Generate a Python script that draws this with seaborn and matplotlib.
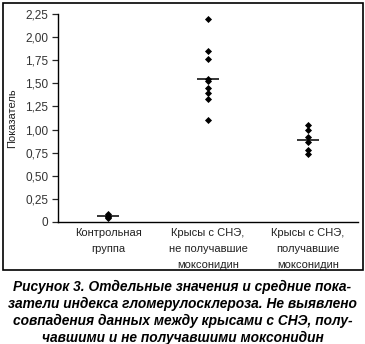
import matplotlib
matplotlib.use("Agg")
import matplotlib.pyplot as plt
from matplotlib.patches import Rectangle
from matplotlib.transforms import blended_transform_factory, offset_copy
import seaborn as sns
import pandas as pd

# Individual values per group
groups = [
    "Контрольная\nгруппа",
    "Крысы с СНЭ,\nне получавшие\nмоксонидин",
    "Крысы с СНЭ,\nполучавшие\nмоксонидин",
]
control_vals = [0.09, 0.07, 0.05, 0.04]
sne_untreated_vals = [2.20, 1.85, 1.76, 1.55, 1.52, 1.45, 1.40, 1.33, 1.10]
sne_moxonidine_vals = [1.05, 1.00, 0.92, 0.87, 0.78, 0.74]
group_means = [0.06, 1.55, 0.89]

y_ticks = [0, 0.25, 0.5, 0.75, 1.0, 1.25, 1.5, 1.75, 2.0, 2.25]
y_tick_labels = ["0", "0,25", "0,50", "0,75", "1,00", "1,25", "1,50", "1,75", "2,00", "2,25"]
y_label = "Показатель"
caption = ("Рисунок 3. Отдельные значения и средние пока-\n"
           "затели индекса гломерулосклероза. Не выявлено\n"
           "совпадения данных между крысами с СНЭ, полу-\n"
           "чавшими и не получавшими моксонидин")

df = pd.DataFrame({
    "group": [groups[0]] * len(control_vals)
             + [groups[1]] * len(sne_untreated_vals)
             + [groups[2]] * len(sne_moxonidine_vals),
    "value": control_vals + sne_untreated_vals + sne_moxonidine_vals,
})

sns.set_theme(style="white")
plt.rcParams["font.family"] = ["Liberation Sans", "DejaVu Sans"]

fig = plt.figure(figsize=(3.65, 3.44), dpi=100)
ax = fig.add_axes([0.159, 0.3547, 0.822, 0.6046])

sns.stripplot(data=df, x="group", y="value", order=groups, jitter=False,
              marker="D", size=3.6, color="black", linewidth=0, ax=ax)

# Group means as short horizontal bars
half = 0.11
for i, m in enumerate(group_means):
    ax.hlines(m, i - half, i + half, color="black", linewidth=1.1, zorder=3)

ax.set_xlim(-0.5, 2.5)
ax.set_ylim(0, 2.25)
ax.set_yticks(y_ticks)
ax.set_yticklabels(y_tick_labels)
ax.set_xlabel("")
ax.set_ylabel(y_label, fontsize=8, color="#222222")
ax.yaxis.set_label_coords(-0.135, 0.5)

for side in ["top", "right"]:
    ax.spines[side].set_visible(False)
for side in ["left", "bottom"]:
    ax.spines[side].set_color("black")
    ax.spines[side].set_linewidth(1.0)

ax.tick_params(axis="y", which="both", left=True, length=4, width=0.9,
               direction="out", labelsize=8.5, pad=3)
for lbl in ax.get_yticklabels():
    lbl.set_color("#333333")

# Category labels drawn below the axis with wider line spacing
ax.tick_params(axis="x", which="both", bottom=False, labelbottom=False)
trans = offset_copy(blended_transform_factory(ax.transData, ax.transAxes),
                    fig=fig, x=0, y=-4, units="points")
for i, g in enumerate(groups):
    ax.text(i, 0, g, transform=trans, ha="center", va="top", fontsize=8,
            linespacing=1.75, color="#222222")

# Outer frame around the chart
fig.patches.append(Rectangle((3 / 365, 1 - 270 / 344), 360 / 365, 267 / 344,
                             transform=fig.transFigure, fill=False,
                             edgecolor="black", linewidth=1.2))

fig.text(0.5, 1 - 312.5 / 344, caption, ha="center", va="center",
         fontsize=9.9, fontweight="bold", fontstyle="italic",
         linespacing=1.27, color="black")

fig.savefig("out.png", dpi=100)
